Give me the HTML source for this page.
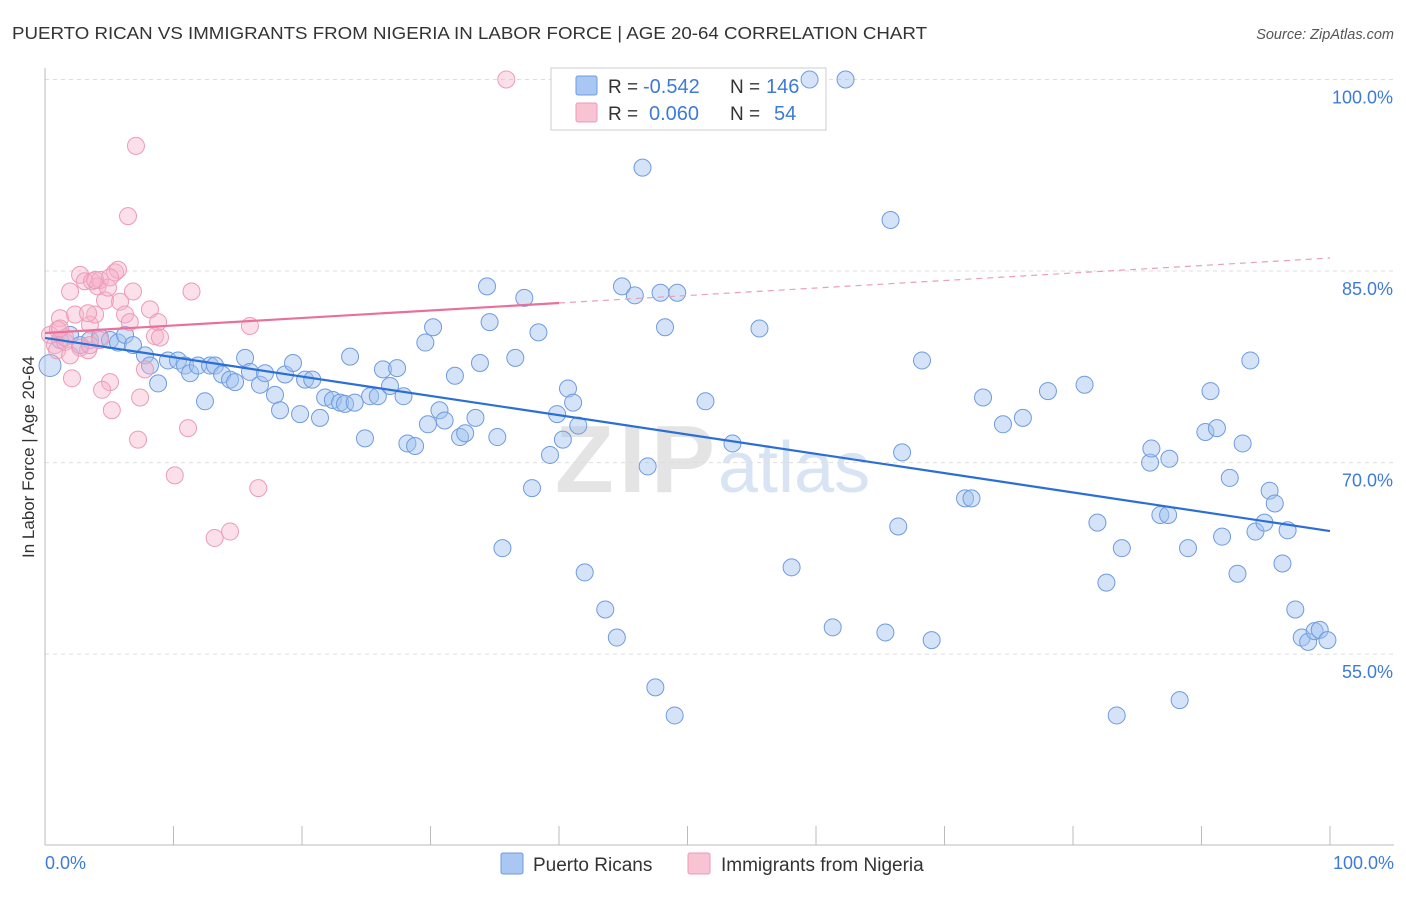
<!DOCTYPE html>
<html><head><meta charset="utf-8"><style>
body{margin:0;background:#fff;font-family:"Liberation Sans",sans-serif;}
svg text{font-family:"Liberation Sans",sans-serif;}
</style></head><body>
<svg id="chart" width="1406" height="892" viewBox="0 0 1406 892">
<text x="12" y="39" font-size="17.5" fill="#333" textLength="915" lengthAdjust="spacingAndGlyphs">PUERTO RICAN VS IMMIGRANTS FROM NIGERIA IN LABOR FORCE | AGE 20-64 CORRELATION CHART</text>
<text x="1394" y="39" font-size="14.5" fill="#555" font-style="italic" text-anchor="end">Source: ZipAtlas.com</text>
<text x="715" y="492" font-size="96" fill="#e4e4e4" font-family="Liberation Serif" text-anchor="end" font-weight="bold" textLength="160">ZIP</text>
<text x="718" y="492" font-size="72" fill="#d8e4f4">atlas</text>
<g id="grid"></g><g id="axes"></g>
<g>
<rect x="551" y="68" width="275" height="62" fill="#fff" stroke="#ccc"/>
<rect x="576" y="76" width="21" height="19" fill="#aac6f2" stroke="#6f9be0" rx="2"/>
<rect x="576" y="103" width="21" height="19" fill="#f8c3d3" stroke="#ee9ab5" rx="2"/>
<text x="608" y="93" font-size="19" fill="#333">R = </text><text x="643" y="93" font-size="20" fill="#3d7bd9">-0.542</text>
<text x="730" y="93" font-size="19" fill="#333">N = </text><text x="766" y="93" font-size="20" fill="#3d7bd9">146</text>
<text x="608" y="120" font-size="19" fill="#333">R = </text><text x="649" y="120" font-size="20" fill="#3d7bd9">0.060</text>
<text x="730" y="120" font-size="19" fill="#333">N = </text><text x="774" y="120" font-size="20" fill="#3d7bd9">54</text>
</g>
<g id="pts"></g><g id="trend"></g>
<text transform="translate(34,457) rotate(-90)" font-size="17" fill="#333" text-anchor="middle">In Labor Force | Age 20-64</text>
<g>
<rect x="501" y="853" width="22" height="21" fill="#aac6f2" stroke="#6f9be0" rx="2"/>
<text x="533" y="871" font-size="19" fill="#333">Puerto Ricans</text>
<rect x="688" y="853" width="22" height="21" fill="#f8c3d3" stroke="#ee9ab5" rx="2"/>
<text x="721" y="871" font-size="19" fill="#333">Immigrants from Nigeria</text>
</g>
</svg>
<script>
const yTicks=[55,70,85,100];
const yTickLabels=["55.0%","70.0%","85.0%","100.0%"];
const xTickLabels=["0.0%","100.0%"];
const blueX=[0.39,1.17,1.95,2.73,3.5,4.28,5.06,5.68,6.23,6.85,7.78,8.17,8.8,9.57,10.35,10.9,11.29,11.9,12.45,12.84,13.23,13.78,14.4,14.79,15.57,15.95,16.73,17.12,17.9,18.29,18.68,19.3,19.85,20.24,20.8,21.4,21.8,22.4,22.96,23.35,23.74,24.1,24.9,25.3,25.9,26.3,26.85,27.4,27.9,28.2,28.8,29.6,29.8,30.2,30.7,31.1,31.9,32.3,32.7,33.5,33.85,34.4,34.6,35.2,35.6,36.6,37.3,37.9,38.4,39.3,39.85,40.3,40.7,41.1,41.5,42.0,43.6,44.5,44.9,45.9,46.5,46.9,47.5,47.9,48.25,49.0,49.2,51.4,53.5,55.6,58.1,59.5,61.3,62.3,65.4,65.8,66.4,66.7,68.25,69.0,71.6,72.1,73.0,74.55,76.1,78.05,80.9,81.9,82.6,83.4,83.8,86.0,86.1,86.8,87.4,87.5,88.3,88.95,90.3,90.7,91.2,91.6,92.2,92.8,93.2,93.8,94.2,94.9,95.3,95.7,96.3,96.7,97.3,97.8,98.3,98.8,99.2,99.8];
const blueY=[77.6,79.6,80.0,79.2,79.6,79.8,79.6,79.4,80.0,79.2,78.4,77.6,76.2,78.0,78.0,77.6,77.0,77.6,74.8,77.6,77.6,76.9,76.5,76.3,78.2,77.1,76.1,77.0,75.3,74.1,76.9,77.8,73.8,76.5,76.5,73.5,75.1,74.9,74.7,74.6,78.3,74.7,71.9,75.2,75.2,77.3,76.0,77.4,75.2,71.5,71.3,79.4,73.0,80.6,74.1,73.3,76.8,72.0,72.3,73.5,77.8,83.8,81.0,72.0,63.3,78.2,82.9,68.0,80.2,70.6,73.8,71.8,75.8,74.7,72.9,61.4,58.5,56.3,83.8,83.1,93.1,69.7,52.4,83.3,80.6,50.2,83.3,74.8,71.5,80.5,61.8,100,57.1,100,56.7,89.0,65.0,70.8,78.0,56.1,67.2,67.2,75.1,73.0,73.5,75.6,76.1,65.3,60.6,50.2,63.3,70.0,71.1,65.9,65.9,70.3,51.4,63.3,72.4,75.6,72.7,64.2,68.8,61.3,71.5,78.0,64.6,65.3,67.8,66.8,62.1,64.7,58.5,56.3,55.96,56.8,56.9,56.1];
const pinkX=[0.39,0.78,0.94,1.17,1.56,1.95,2.1,2.34,2.73,3.1,3.35,3.5,3.66,3.9,4.1,4.28,4.67,4.9,5.06,5.2,5.45,5.68,5.84,6.23,6.6,6.85,7.08,7.24,7.4,7.78,8.17,8.56,8.8,8.95,10.1,11.13,11.4,13.2,14.4,15.95,16.6,35.9,6.46,4.28,1.56,1.0,2.73,1.95,3.5,4.44,3.9,5.06,1.17,3.35];
const pinkY=[80.0,79.2,78.8,81.3,79.45,83.4,76.6,81.6,84.7,84.2,78.8,80.8,84.2,81.6,83.8,84.3,82.7,83.7,76.3,74.1,84.9,85.1,82.6,81.6,81.0,83.4,94.8,71.8,75.1,77.3,82.0,79.9,81.0,79.8,69.0,72.7,83.4,64.1,64.6,80.7,68.0,100,89.3,79.6,79.8,80.4,79.0,78.4,79.2,75.7,84.3,84.5,80.5,81.7];
const blueTrend=[79.76,64.64];
const pinkTrend=[80.15,86.02];
const NS="http://www.w3.org/2000/svg";
const X=v=>45+v*12.85, Y=v=>79.5+(100-v)*12.77;
function mk(tag,attrs,parent){const e=document.createElementNS(NS,tag);for(const k in attrs)e.setAttribute(k,attrs[k]);document.getElementById(parent).appendChild(e);return e;}
yTicks.forEach((t,i)=>{
 const g=mk('line',{x1:45,x2:1394,y1:Y(t),y2:Y(t),stroke:'#ddd','stroke-dasharray':'4,4'},'grid');
 
 
 const l=mk('text',{x:1393,y:Y(t)+24,'font-size':18,fill:'#3d7bd9','text-anchor':'end'},'grid');
 l.textContent=yTickLabels[i];
 
 
});
const ax=mk('line',{x1:45,x2:1394,y1:845,y2:845,stroke:'#bbb'},'axes');


const ay=mk('line',{x1:45,x2:45,y1:68,y2:845,stroke:'#bbb'},'axes');


for(let i=0;i<=10;i++){const t=mk('line',{x1:X(i*10),x2:X(i*10),y1:826,y2:845,stroke:'#bbb'},'axes');
 
 }
[[0,'start',45],[1,'end',1394]].forEach(([i,a,x])=>{const t=mk('text',{x:x,y:869,'font-size':18,fill:'#3d7bd9','text-anchor':a},'axes');t.textContent=xTickLabels[i];
 
 });
blueX.forEach((x,i)=>{const c=mk('circle',{cx:X(x),cy:Y(blueY[i]),r:i==0?11:8.5,fill:'rgba(160,192,240,0.45)',stroke:'#6f9be0','stroke-width':1},'pts');
 
 });
pinkX.forEach((x,i)=>{const c=mk('circle',{cx:X(x),cy:Y(pinkY[i]),r:8.5,fill:'rgba(246,178,202,0.4)',stroke:'#ee9ab5','stroke-width':1},'pts');
 
 });
const bt=mk('line',{x1:X(0),y1:Y(blueTrend[0]),x2:X(100),y2:Y(blueTrend[1]),stroke:'#2a6fd6','stroke-width':2.2},'trend');


const pm=v=>pinkTrend[0]+(pinkTrend[1]-pinkTrend[0])*v/100;
const pt=mk('line',{x1:X(0),y1:Y(pm(0)),x2:X(40),y2:Y(pm(40)),stroke:'#e8709a','stroke-width':2.2},'trend');


const pd=mk('line',{x1:X(40),y1:Y(pm(40)),x2:X(100),y2:Y(pm(100)),stroke:'#e8a0b8','stroke-width':1.2,'stroke-dasharray':'6,5'},'trend');


</script>
</body></html>
